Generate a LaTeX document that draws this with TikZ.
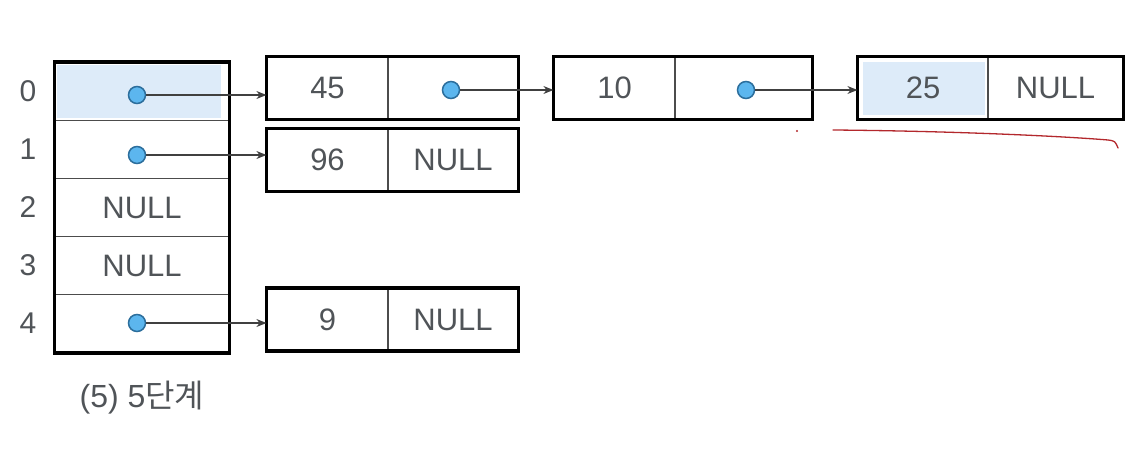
\documentclass[tikz,border=0pt]{standalone}
\usepackage{fontspec}
\setmainfont{Liberation Sans}
\newfontfamily\krfont{Noto Sans CJK KR}
\usetikzlibrary{positioning,arrows.meta}
\definecolor{hilite}{HTML}{DDEBF9}
\definecolor{ptrfill}{HTML}{5CB6EE}
\definecolor{ptrline}{HTML}{2C6E9C}
\definecolor{txtgray}{HTML}{505458}
\definecolor{pen}{HTML}{B3282C}

\begin{document}
\begin{tikzpicture}[x=1pt,y=-1pt,
  cell/.style={draw=black!70,line width=1.2pt,inner sep=0pt,minimum width=174pt,minimum height=58pt,text=txtgray,font=\fontsize{31}{34}\selectfont},
  datacell/.style={cell,minimum width=121pt,minimum height=62pt},
  linkcell/.style={cell,minimum width=130pt,minimum height=62pt},
  frame/.style={draw=black,line width=3.5pt},
  ptr/.style={circle,draw=ptrline,fill=ptrfill,line width=1.5pt,minimum size=17pt,inner sep=0pt},
  link/.style={draw=black!75,line width=1.2pt,-{Stealth[length=10pt,width=8pt]}},
  idx/.style={text=txtgray,font=\fontsize{30}{33}\selectfont,inner sep=0pt}]
\useasboundingbox (0,0) rectangle (1145,449);
% bucket table
\fill[hilite] (57,65) rectangle (221,118);
\node[cell] (r0) at (142,91.5) {};
\node[cell] (r1) at (142,149.5) {};
\node[cell] (r2) at (142,207.5) {NULL};
\node[cell] (r3) at (142,265.5) {NULL};
\node[cell] (r4) at (142,323.5) {};
\draw[frame] (r0.north west) rectangle (r4.south east);
\node[idx,left=18pt of r0] (i0) {0};
\node[idx,left=18pt of r1] (i1) {1};
\node[idx,left=18pt of r2] (i2) {2};
\node[idx,left=18pt of r3] (i3) {3};
\node[idx,left=18pt of r4] (i4) {4};
\node[idx,below=28pt of r4,font=\fontsize{32}{35}\selectfont] (cap) {(5) 5{\krfont 단계}};
% chains
\node[datacell] (n45) at (327.5,88) {45};
\node[linkcell] (n45p) at (453,88) {};
\draw[frame] (n45.north west) rectangle (n45p.south east);
\node[datacell] (n96) at (327.5,160) {96};
\node[linkcell] (n96p) at (453,160) {NULL};
\draw[frame] (n96.north west) rectangle (n96p.south east);
\node[datacell] (n9) at (327.5,319.5) {9};
\node[linkcell] (n9p) at (453,319.5) {NULL};
\draw[frame] (n9.north west) rectangle (n9p.south east);
\node[datacell] (n10) at (614.5,88) {10};
\node[linkcell,minimum width=137pt] (n10p) at (743.5,88) {};
\draw[frame] (n10.north west) rectangle (n10p.south east);
\fill[hilite] (863,62) rectangle (985,115);
\node[datacell,minimum width=130pt] (n25) at (923,88) {25};
\node[linkcell,minimum width=135pt] (n25p) at (1055.5,88) {NULL};
\draw[frame] (n25.north west) rectangle (n25p.south east);
% pointers
\node[ptr] (p0) at (137,95) {};
\node[ptr] (p1) at (137,155) {};
\node[ptr] (p4) at (137,323) {};
\node[ptr] (p45) at (451,90) {};
\node[ptr] (p10) at (746,90) {};
\draw[link] (p0) -- (p0 -| n45.west);
\draw[link] (p1) -- (p1 -| n96.west);
\draw[link] (p4) -- (p4 -| n9.west);
\draw[link] (p45) -- (p45 -| n10.west);
\draw[link] (p10) -- (p10 -| n25.west);
% pen marks
\fill[pen] (797,131) circle (1.2pt);
\draw[pen,line width=1.3pt,line cap=round] (833,130) .. controls (950,131) and (1060,136) .. (1108,140) .. controls (1115,141) .. (1118,148);
\end{tikzpicture}
\end{document}
